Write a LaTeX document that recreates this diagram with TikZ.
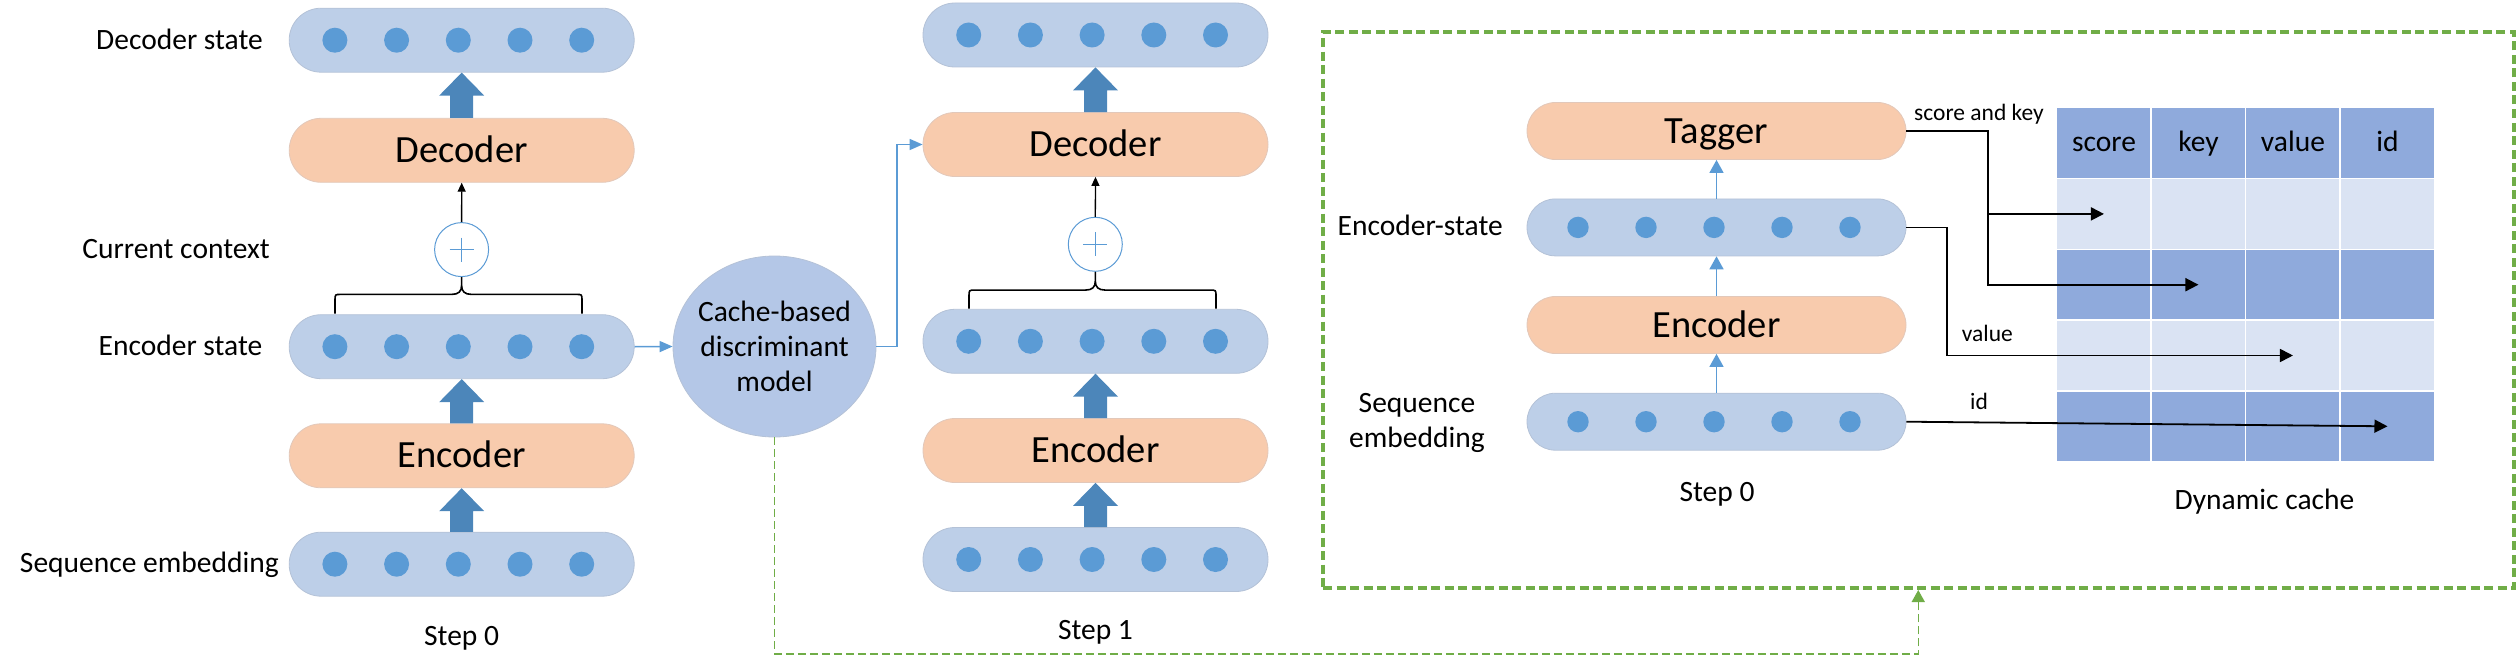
\documentclass[tikz,border=0pt]{standalone}
\usepackage{fontspec}
\setmainfont{Carlito}
\usetikzlibrary{arrows.meta,shapes.geometric,calc}
\definecolor{barfill}{RGB}{189,207,232}
\definecolor{barline}{RGB}{180,194,215}
\definecolor{orfill}{RGB}{248,203,173}
\definecolor{orline}{RGB}{226,200,186}
\definecolor{dotc}{RGB}{91,155,213}
\definecolor{barrow}{RGB}{76,134,186}
\definecolor{ellc}{RGB}{180,199,231}
\definecolor{gc}{RGB}{112,173,71}
\definecolor{darkc}{RGB}{143,170,220}
\definecolor{lightc}{RGB}{218,227,243}
\newcommand\fsLab{\fontsize{29.5}{35}\selectfont}
\newcommand\fsBig{\fontsize{38.5}{46}\selectfont}
\newcommand\fsSml{\fontsize{23.5}{28}\selectfont}
\newcommand\rowdots[4]{\foreach \k in {-2,...,2}{\fill[dotc] ($(#1.center)+({\k*#2+(#3)},0)$) circle[radius=#4];}}
\newcommand\bigup[2]{\fill[barrow] ($(#1.north)+(-11.5,0)$) |- ($(#2.south)+(-22.5,23)$) -- (#2.south) -- ($(#2.south)+(22.5,23)$) -| ($(#1.north)+(11.5,0)$) -- cycle;}
\newcommand\mybrace[6]{\draw[brc] (#1,#4) -- (#1,#3+6) .. controls (#1,#3) .. (#1+6,#3) -- (#5-10,#3) .. controls (#5-3,#3) and (#5,#3-3) .. (#5,#3-9) -- (#6) -- (#5,#3-9) .. controls (#5,#3-3) and (#5+3,#3) .. (#5+10,#3) -- (#2-6,#3) .. controls (#2,#3) .. (#2,#3+6) -- (#2,#4);}
\newcommand\plussign[1]{\draw[dotc, line width=1pt] ($(#1.center)+(-12,0)$) -- ($(#1.center)+(12,0)$) ($(#1.center)+(0,-12)$) -- ($(#1.center)+(0,12)$);}
\begin{document}
\begin{tikzpicture}[x=1pt,y=-1pt,
  bar/.style={rectangle, rounded corners=31.9pt, fill=barfill, draw=barline, line width=0.8pt, minimum width=345pt, minimum height=64pt, inner sep=0pt},
  ibar/.style={bar, rounded corners=28.4pt, minimum width=379pt, minimum height=57pt},
  obox/.style={bar, fill=orfill, draw=orline, font=\fsBig, text height=24pt, text depth=0pt},
  iobox/.style={obox, rounded corners=28.4pt, minimum width=379pt, minimum height=57pt},
  plus/.style={circle, draw=dotc, line width=1pt, fill=white, minimum size=54pt, inner sep=0pt},
  lab/.style={font=\fsLab, inner sep=0pt},
  sml/.style={font=\fsSml, inner sep=0pt},
  brc/.style={line width=1.6pt},
  sblk/.style={line width=1.3pt, -{Triangle[length=9pt,width=8pt]}},
  blk/.style={line width=1.8pt, -{Triangle[length=13pt,width=13pt]}},
  blu/.style={draw=dotc, line width=1.6pt, -{Triangle[length=13pt,width=11pt]}},
  tblu/.style={draw=dotc, line width=1.5pt, -{Triangle[length=13pt,width=14pt]}},
  gcon/.style={draw=gc, line width=1.5pt, dash pattern=on 8pt off 4pt, -{Triangle[length=12pt,width=13pt]}},
  cell/.style={rectangle, minimum width=94.5pt, minimum height=70.8pt, draw=white, line width=1.5pt, inner sep=0pt},
  hdr/.style={cell, fill=darkc, font=\fsLab, text height=17pt, text depth=0pt}
]
\useasboundingbox (0,0) rectangle (2517,669);

% green dashed frame
\node[rectangle, draw=gc, line width=4pt, dash pattern=on 9pt off 4.5pt, minimum width=1190.5pt, minimum height=556pt, inner sep=0pt] (gbox) at (1918.25,310) {};

% ---------- Step 0 ----------
\node[bar] (ds0) at (461.7,40.2) {};
\node[obox] (dec0) at (461.7,150.3) {Decoder};
\node[plus] (p0) at (461.6,249.6) {};
\node[bar] (es0) at (461.7,346.7) {};
\node[obox] (enc0) at (461.7,455.8) {Encoder};
\node[bar] (sq0) at (461.7,564.2) {};
\rowdots{ds0}{61.7}{-3.4}{12.5pt}
\rowdots{es0}{61.7}{-3.4}{12.5pt}
\rowdots{sq0}{61.7}{-3.4}{12.5pt}
\bigup{dec0}{ds0}
\bigup{enc0}{es0}
\bigup{sq0}{enc0}
\plussign{p0}
\draw[sblk] (p0.north) -- (dec0.south);
\mybrace{335}{582}{294.4}{313.6}{461.6}{p0.south}
\node[lab, anchor=base east] (l1) at (263,50) {Decoder state};
\node[lab, anchor=base east] (l2) at (270,258) {Current context};
\node[lab, anchor=base east] (l3) at (262.5,355) {Encoder state};
\node[lab, anchor=base east] (l4) at (279,572.5) {Sequence embedding};
\node[lab, anchor=base] (st0) at (461.6,645) {Step 0};

% ---------- cache-based model ----------
\node[ellipse, fill=ellc, draw=barline, line width=0.8pt, minimum width=203pt, minimum height=181pt, inner sep=0pt] (ell) at (774.5,346.5) {};
\node[lab, align=center] (ellt) at (ell.center) {Cache-based\\discriminant\\model};
\draw[blu] (es0.east) -- (ell.west);

% ---------- Step 1 ----------
\node[bar] (ds1) at (1095.5,35) {};
\node[obox] (dec1) at (1095.5,144.5) {Decoder};
\node[plus] (p1) at (1095.3,244.3) {};
\node[bar] (es1) at (1095.5,341.3) {};
\node[obox] (enc1) at (1095.5,450.5) {Encoder};
\node[bar] (sq1) at (1095.5,559.5) {};
\rowdots{ds1}{61.7}{-3.4}{12.5pt}
\rowdots{es1}{61.7}{-3.4}{12.5pt}
\rowdots{sq1}{61.7}{-3.4}{12.5pt}
\bigup{dec1}{ds1}
\bigup{enc1}{es1}
\bigup{sq1}{enc1}
\plussign{p1}
\draw[sblk] (p1.north) -- (dec1.south);
\mybrace{969}{1216}{290.1}{308.5}{1095.3}{p1.south}
\node[lab, anchor=base] (st1) at (1095.5,639.3) {Step 1};

\coordinate (bx) at (897,0);
\draw[blu] (ell.east) -| (bx |- dec1.west) -- (dec1.west);
\coordinate (gturn) at (1918.25,654);
\draw[gcon] (ell.south) |- (gturn) -- (gbox.south);

% ---------- inner model ----------
\node[iobox] (tag) at (1716.5,131) {Tagger};
\node[ibar] (ies) at (1716.5,227.4) {};
\node[iobox] (ienc) at (1716.5,325) {Encoder};
\node[ibar] (iseq) at (1716.5,421.7) {};
\rowdots{ies}{68}{-2.5}{10.7pt}
\rowdots{iseq}{68}{-2.5}{10.7pt}
\draw[tblu] (iseq.north) -- (ienc.south);
\draw[tblu] (ienc.north) -- (ies.south);
\draw[tblu] (ies.north) -- (tag.south);
\node[lab, anchor=base east] (l5) at (1503,235.7) {Encoder-state};
\node[lab, align=center] (l6) at (1417,423) {Sequence\\embedding};
\node[lab, anchor=base] (st2) at (1717,501) {Step 0};

% ---------- dynamic cache table ----------
\node[hdr] (t-0-1) at (2103.95,143.1) {score};
\node[hdr] (t-0-2) at (2198.45,143.1) {key};
\node[hdr] (t-0-3) at (2292.95,143.1) {value};
\node[hdr] (t-0-4) at (2387.45,143.1) {id};
\foreach \r in {1,...,4}{
  \foreach \c in {1,...,4}{
    \ifodd\r\def\cf{lightc}\else\def\cf{darkc}\fi
    \node[cell, fill=\cf] (t-\r-\c) at ({2009.45+94.5*\c},{143.1+70.8*\r}) {};
  }
}
\node[lab, anchor=base] (dyn) at (2264.5,509) {Dynamic cache};

% connectors into the cache
\coordinate (jx) at (1988.3,0);
\coordinate (vx) at (1947.3,0);
\draw[blk] (tag.east) -| (jx |- t-2-2.center) -- (t-2-2.center);
\draw[blk] (jx |- t-1-1.center) -- (t-1-1.center);
\draw[blk] (ies.east) -| (vx |- t-3-3.center) -- (t-3-3.center);
\draw[blk] (iseq.east) -- (t-4-4.center);
\node[sml, anchor=base west] (lsk) at (1914,120.7) {score and key};
\node[sml, anchor=base west] (lv) at (1961.7,341.7) {value};
\node[sml, anchor=base west] (lid) at (1970,409) {id};
\end{tikzpicture}
\end{document}
